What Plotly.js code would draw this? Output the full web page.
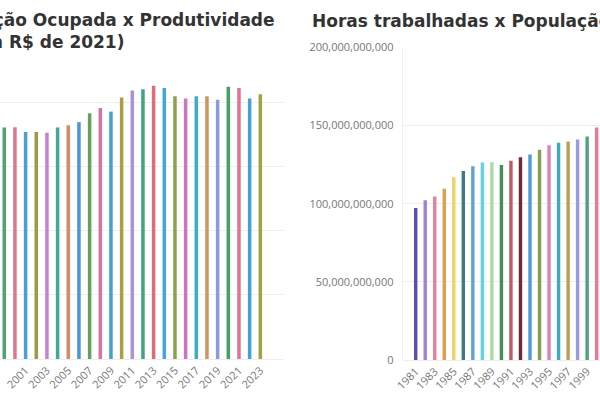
<!DOCTYPE html>
<html>
<head>
<meta charset="utf-8">
<script src="https://cdn.plot.ly/plotly-3.0.1.min.js"></script>
<style>html,body{margin:0;padding:0;background:#fff;}#chart{width:600px;height:400px;}</style>
</head>
<body>
<div id="chart"></div>
<script>
// Left chart: População Ocupada x Produtividade (em R$ de 2021) — visible years
const leftYears = [1999,2000,2001,2002,2003,2004,2005,2006,2007,2008,2009,2010,2011,2012,2013,2014,2015,2016,2017,2018,2019,2020,2021,2022,2023];
const leftValues = [72.3,72.4,70.9,70.9,70.7,72.3,73.0,74.0,76.8,78.4,77.3,81.7,83.9,84.3,85.4,84.7,82.1,81.4,82.1,82.1,81.0,85.1,84.7,81.4,82.7];
const leftColors = ['#4fa474','#dc7890','#4aa0d2','#9c9c44','#c880d0','#44a894','#d48c62','#4c96da','#62a25c','#d872a2','#42a2ca','#b09c42','#aa92da','#42a282','#e06c7a','#42a6da','#8ca24a','#ca76c2','#3eaebe','#ca985c','#8c9cda','#44a264','#e07292','#44a2d2','#a2a242'];
const leftTickYears = [1999,2001,2003,2005,2007,2009,2011,2013,2015,2017,2019,2021,2023];

// Right chart: Horas trabalhadas x População Ocupada — visible years
const rightYears = [1981,1982,1983,1984,1985,1986,1987,1988,1989,1990,1991,1992,1993,1994,1995,1996,1997,1998,1999,2000];
const rightValues = [97.2e9,102.1e9,104.5e9,109.6e9,116.9e9,120.9e9,123.9e9,126.3e9,126.5e9,124.8e9,127.4e9,129.7e9,131.4e9,134.4e9,137.4e9,138.9e9,139.7e9,141.0e9,143.0e9,148.7e9];
const rightColors = ['#5a50b2','#a282da','#e2829c','#e29c52','#f0d264','#3c7c82','#60a2d2','#64d2e2','#aadca2','#409252','#ba5c62','#6c2c32','#4c9cda','#82a252','#da82ba','#42aaba','#c29c52','#9c9ae2','#4ca282','#e27c92'];
const rightTickYears = [1981,1983,1985,1987,1989,1991,1993,1995,1997,1999];

const leftTitle1 = 'População Ocupada x Produtividade';
const leftTitle2 = '(em R$ de 2021)';
const rightTitle = 'Horas trabalhadas x População Ocupada';

const W = 600, H = 400;
const px = v => v / W;
const py = v => (H - v) / H;

const tickFont = {family: 'Open Sans, sans-serif', size: 11, color: '#777'};
const titleFont = {family: 'DejaVu Sans, sans-serif', size: 17, color: '#333', weight: 700};

const traces = [
  {type: 'bar', x: leftYears, y: leftValues, marker: {color: leftColors}, width: 0.33, xaxis: 'x', yaxis: 'y', hoverinfo: 'skip'},
  {type: 'bar', x: rightYears, y: rightValues, marker: {color: rightColors}, width: 0.36, xaxis: 'x2', yaxis: 'y2', hoverinfo: 'skip'}
];

const layout = {
  width: W, height: H,
  margin: {l: 0, r: 0, t: 0, b: 0},
  paper_bgcolor: '#fff', plot_bgcolor: '#fff',
  showlegend: false,
  xaxis: {domain: [0, px(284)], range: [1998.6, 2025.22], tickmode: 'array', tickvals: leftTickYears,
          ticktext: leftTickYears.map(String), tickangle: -45,
          showgrid: false, zeroline: false, showline: false, ticks: '', tickfont: tickFont, ticklabelstandoff: 2},
  yaxis: {domain: [py(359), py(70)], range: [0, 90.3], dtick: 20, showticklabels: false,
          showgrid: true, gridcolor: '#eeeeee', zeroline: true, zerolinecolor: '#eeeeee', showline: false},
  xaxis2: {domain: [px(402.7), 1], range: [1979.635, 2000.35], tickmode: 'array', tickvals: rightTickYears,
           ticktext: rightTickYears.map(String), tickangle: -45, anchor: 'y2',
           showgrid: false, zeroline: false, showline: false, ticks: '', tickfont: tickFont, ticklabelstandoff: 2},
  yaxis2: {domain: [py(360), py(47.3)], range: [0, 200e9], dtick: 50e9, tickformat: ',d', anchor: 'x2',
           showgrid: true, gridcolor: '#eeeeee', zeroline: true, zerolinecolor: '#eeeeee',
           showline: true, linecolor: '#eeeeee', ticks: '', tickfont: tickFont, ticklabelstandoff: 6},
  annotations: [
    {text: '<b>' + leftTitle1 + '</b>', xref: 'paper', yref: 'paper', x: px(277), y: py(20), xanchor: 'right', yanchor: 'middle', showarrow: false, font: titleFont},
    {text: '<b>' + leftTitle2 + '</b>', xref: 'paper', yref: 'paper', x: px(126), y: py(41.5), xanchor: 'right', yanchor: 'middle', showarrow: false, font: titleFont},
    {text: '<b>' + rightTitle + '</b>', xref: 'paper', yref: 'paper', x: px(310), y: py(21), xanchor: 'left', yanchor: 'middle', showarrow: false, font: titleFont}
  ]
};

Plotly.newPlot('chart', traces, layout, {staticPlot: true, displayModeBar: false});
</script>
</body>
</html>
